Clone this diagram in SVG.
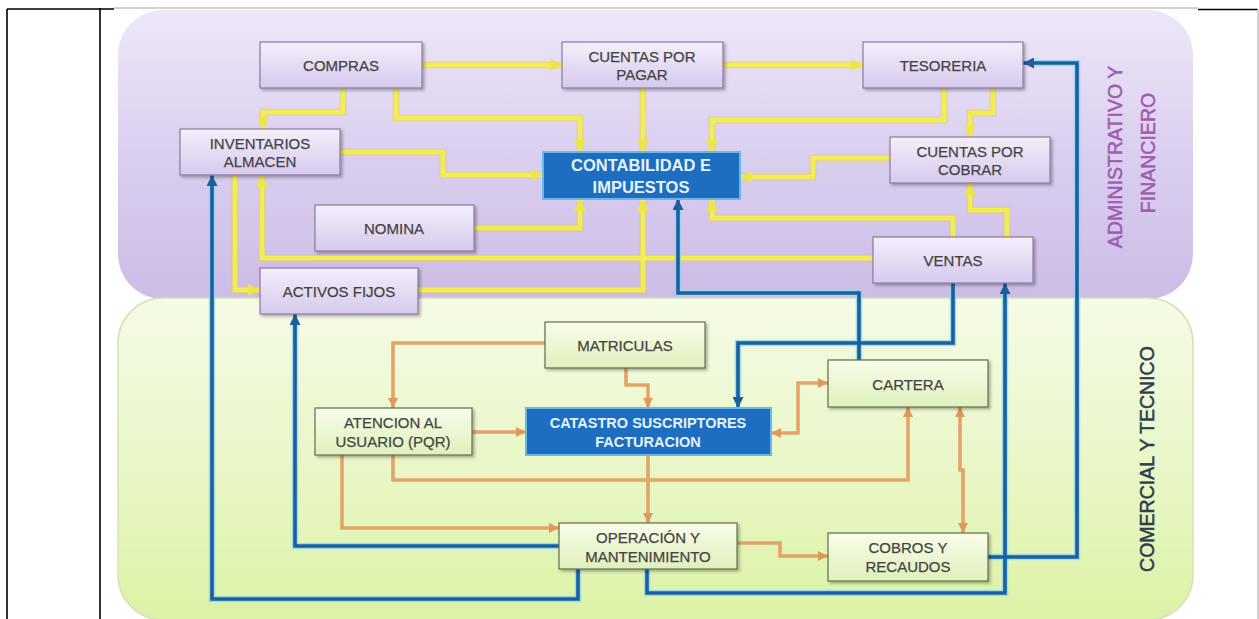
<svg xmlns="http://www.w3.org/2000/svg" width="1259" height="619" viewBox="0 0 1259 619">
<defs>
<style>
.t{font-family:"Liberation Sans",Arial,sans-serif;font-size:15px;fill:#444;stroke:#444;stroke-width:0.25;text-anchor:middle;dominant-baseline:central}
.tb{font-family:"Liberation Sans",Arial,sans-serif;font-weight:bold;fill:#e4f3ff;text-anchor:middle;dominant-baseline:central}
.side{font-family:"Liberation Sans",Arial,sans-serif;font-size:19.5px;text-anchor:middle;stroke-width:0.5}
.pn{fill:url(#gPn);stroke:#8a7b9f;stroke-width:1.2;filter:url(#sh)}
.gn{fill:url(#gGn);stroke:#5f6e48;stroke-width:1.2;filter:url(#sh)}
.bn{fill:#1d6dc0;stroke:#69b8ec;stroke-width:2}
.y{fill:none;stroke:#f3ec55;stroke-width:5;marker-end:url(#aY)}
.yo{fill:none;stroke:#cfc44a;stroke-width:6.5;stroke-opacity:0.55}
.b{fill:none;stroke:#1c5f9e;stroke-width:3.6;marker-end:url(#aB)}
.bh{fill:none;stroke:#8fd6ef;stroke-width:6.5;stroke-opacity:0.8}
.o{fill:none;stroke:#e3a567;stroke-width:3.6;marker-end:url(#aO)}
.tbl{stroke:#000;stroke-width:1.6;fill:none}
.gr{stroke:#c4c4c4;stroke-width:1.5;fill:none}
</style>
<linearGradient id="gPurple" x1="0" y1="0" x2="0" y2="1">
<stop offset="0" stop-color="#eee7f8"/>
<stop offset="0.5" stop-color="#dacfef"/>
<stop offset="1" stop-color="#cdbce6"/>
</linearGradient>
<linearGradient id="gGreen" x1="0" y1="0" x2="0" y2="1">
<stop offset="0" stop-color="#f5fbe6"/>
<stop offset="0.6" stop-color="#e7f6c2"/>
<stop offset="1" stop-color="#dcf2a6"/>
</linearGradient>
<linearGradient id="gPn" x1="0" y1="0" x2="0" y2="1">
<stop offset="0" stop-color="#f4effa"/>
<stop offset="1" stop-color="#d6c9ee"/>
</linearGradient>
<linearGradient id="gGn" x1="0" y1="0" x2="0" y2="1">
<stop offset="0" stop-color="#f8fdea"/>
<stop offset="1" stop-color="#dff0bb"/>
</linearGradient>
<filter id="sh" x="-10%" y="-20%" width="130%" height="150%">
<feDropShadow dx="2" dy="2" stdDeviation="1.5" flood-color="#000" flood-opacity="0.3"/>
</filter>
<marker id="aY" viewBox="0 0 10 10" refX="10" refY="5" markerWidth="12" markerHeight="12" markerUnits="userSpaceOnUse" orient="auto-start-reverse">
<path d="M0,0 L10,5 L0,10 z" fill="#efe44a"/>
</marker>
<marker id="aB" viewBox="0 0 10 10" refX="10" refY="5" markerWidth="11" markerHeight="11" markerUnits="userSpaceOnUse" orient="auto-start-reverse">
<path d="M0,0 L10,5 L0,10 z" fill="#1c5f9e"/>
</marker>
<marker id="aO" viewBox="0 0 10 10" refX="10" refY="5" markerWidth="10" markerHeight="10" markerUnits="userSpaceOnUse" orient="auto-start-reverse">
<path d="M0,0 L10,5 L0,10 z" fill="#e09a58"/>
</marker>
</defs>
<rect width="1259" height="619" fill="#fff"/>
<g id="table">
<path class="tbl" d="M7,9 H114 M7,9 V619 M100,8 V619 M1198,9.5 H1258"/>
<path class="gr" d="M114,8 H1198 M1258,9 V619"/>
</g>
<g id="regions">
<rect x="118" y="10" width="1075" height="289" rx="45" fill="url(#gPurple)"/>
<rect x="118" y="298" width="1075" height="322" rx="45" fill="url(#gGreen)" stroke="#d2e3b0" stroke-width="1.5"/>
<text class="side" fill="#a05cb2" stroke="#a05cb2" transform="translate(1122,157) rotate(-90)">ADMINISTRATIVO Y</text>
<text class="side" fill="#a05cb2" stroke="#a05cb2" transform="translate(1155,153) rotate(-90)">FINANCIERO</text>
<text class="side" fill="#2f3d4f" stroke="#2f3d4f" transform="translate(1154,459) rotate(-90)">COMERCIAL Y TECNICO</text>
</g>
<g id="connectors">
<g id="yellow-under">
<path class="yo" d="M422,65 H560"/>
<path class="yo" d="M723,65 H861"/>
<path class="yo" d="M343,88 V112 H263 V127"/>
<path class="yo" d="M396,88 V118 H580 V150"/>
<path class="yo" d="M643,88 V150"/>
<path class="yo" d="M944,88 V120 H712 V150"/>
<path class="yo" d="M993,88 V113 H970 V135"/>
<path class="yo" d="M890,158 H813 V177 H742"/>
<path class="yo" d="M1007,237 V210 H970 V185"/>
<path class="yo" d="M953,237 V218 H712 V201"/>
<path class="yo" d="M873,258 H262 V177"/>
<path class="yo" d="M235,175 V290 H258"/>
<path class="yo" d="M340,152 H443 V175 H541"/>
<path class="yo" d="M474,228 H580 V201"/>
<path class="yo" d="M418,290 H643 V201"/>
</g>
<path class="y" d="M422,65 H562"/>
<path class="y" d="M723,65 H863"/>
<path class="y" d="M343,88 V112 H263 V129"/>
<path class="y" d="M396,88 V118 H580 V152"/>
<path class="y" d="M643,88 V152"/>
<path class="y" d="M944,88 V120 H712 V152"/>
<path class="y" d="M993,88 V113 H970 V137"/>
<path class="y" d="M890,158 H813 V177 H740"/>
<path class="y" d="M1007,237 V210 H970 V183"/>
<path class="y" d="M953,237 V218 H712 V199"/>
<path class="y" d="M873,258 H262 V175"/>
<path class="y" d="M235,175 V290 H260"/>
<path class="y" d="M340,152 H443 V175 H543"/>
<path class="y" d="M474,228 H580 V199"/>
<path class="y" d="M418,290 H643 V199"/>
<g id="orange">
<path class="o" d="M545,343 H393 V408"/>
<path class="o" d="M626,368 V385 H648 V408"/>
<path class="o" d="M472,432 H526"/>
<path class="o" style="marker-start:url(#aO)" d="M771,433 H798 V383 H828"/>
<path class="o" d="M393,455 V480 H908 V407"/>
<path class="o" d="M342,455 V528 H559"/>
<path class="o" d="M648,455 V523"/>
<path class="o" d="M737,543 H780 V556 H828"/>
<path class="o" style="marker-start:url(#aO)" d="M960,407 V470 H963 V533"/>
</g>
<g id="blue-halo">
<path class="bh" d="M859,360 V293 H678 V205"/>
<path class="bh" d="M953,283 V343 H738 V402"/>
<path class="bh" d="M988,557 H1077 V63 H1029"/>
<path class="bh" d="M647,569 V593 H1005 V289"/>
<path class="bh" d="M559,546 H295 V320"/>
<path class="bh" d="M578,569 V599 H212 V181"/>
</g>
<path class="b" d="M859,360 V293 H678 V199"/>
<path class="b" d="M953,283 V343 H738 V408"/>
<path class="b" d="M988,557 H1077 V63 H1023"/>
<path class="b" d="M647,569 V593 H1005 V283"/>
<path class="b" d="M559,546 H295 V314"/>
<path class="b" d="M578,569 V599 H212 V175"/>
</g>
<g id="n-compras"><rect class="pn" x="260" y="42" width="162" height="46"/><text class="t" x="341" y="65">COMPRAS</text></g>
<g id="n-cxp"><rect class="pn" x="562" y="42" width="161" height="46"/><text class="t" x="642" y="56">CUENTAS POR</text><text class="t" x="642" y="74">PAGAR</text></g>
<g id="n-tesoreria"><rect class="pn" x="863" y="42" width="160" height="46"/><text class="t" x="943" y="65">TESORERIA</text></g>
<g id="n-inventarios"><rect class="pn" x="180" y="129" width="160" height="46"/><text class="t" x="260" y="143">INVENTARIOS</text><text class="t" x="260" y="161">ALMACEN</text></g>
<g id="n-contabilidad"><rect class="bn" x="543" y="152" width="197" height="47"/><text class="tb" style="font-size:16.5px" x="641" y="165">CONTABILIDAD E</text><text class="tb" style="font-size:16.5px" x="641" y="187">IMPUESTOS</text></g>
<g id="n-cxc"><rect class="pn" x="890" y="137" width="160" height="46"/><text class="t" x="970" y="151">CUENTAS POR</text><text class="t" x="970" y="169">COBRAR</text></g>
<g id="n-nomina"><rect class="pn" x="315" y="205" width="159" height="46"/><text class="t" x="394" y="228">NOMINA</text></g>
<g id="n-ventas"><rect class="pn" x="873" y="237" width="160" height="46"/><text class="t" x="953" y="260">VENTAS</text></g>
<g id="n-activos"><rect class="pn" x="260" y="268" width="158" height="46"/><text class="t" x="339" y="291">ACTIVOS FIJOS</text></g>
<g id="n-matriculas"><rect class="gn" x="545" y="322" width="160" height="46"/><text class="t" x="625" y="345">MATRICULAS</text></g>
<g id="n-atencion"><rect class="gn" x="315" y="408" width="157" height="47"/><text class="t" x="393" y="422">ATENCION AL</text><text class="t" x="393" y="441">USUARIO (PQR)</text></g>
<g id="n-catastro"><rect class="bn" x="526" y="408" width="245" height="47"/><text class="tb" style="font-size:14.5px" x="648" y="423">CATASTRO SUSCRIPTORES</text><text class="tb" style="font-size:14.5px" x="648" y="442">FACTURACION</text></g>
<g id="n-cartera"><rect class="gn" x="828" y="360" width="160" height="47"/><text class="t" x="908" y="384">CARTERA</text></g>
<g id="n-operacion"><rect class="gn" x="559" y="523" width="178" height="46"/><text class="t" x="648" y="537">OPERACIÓN Y</text><text class="t" x="648" y="556">MANTENIMIENTO</text></g>
<g id="n-cobros"><rect class="gn" x="828" y="533" width="160" height="48"/><text class="t" x="908" y="547">COBROS Y</text><text class="t" x="908" y="566">RECAUDOS</text></g>
</svg>
